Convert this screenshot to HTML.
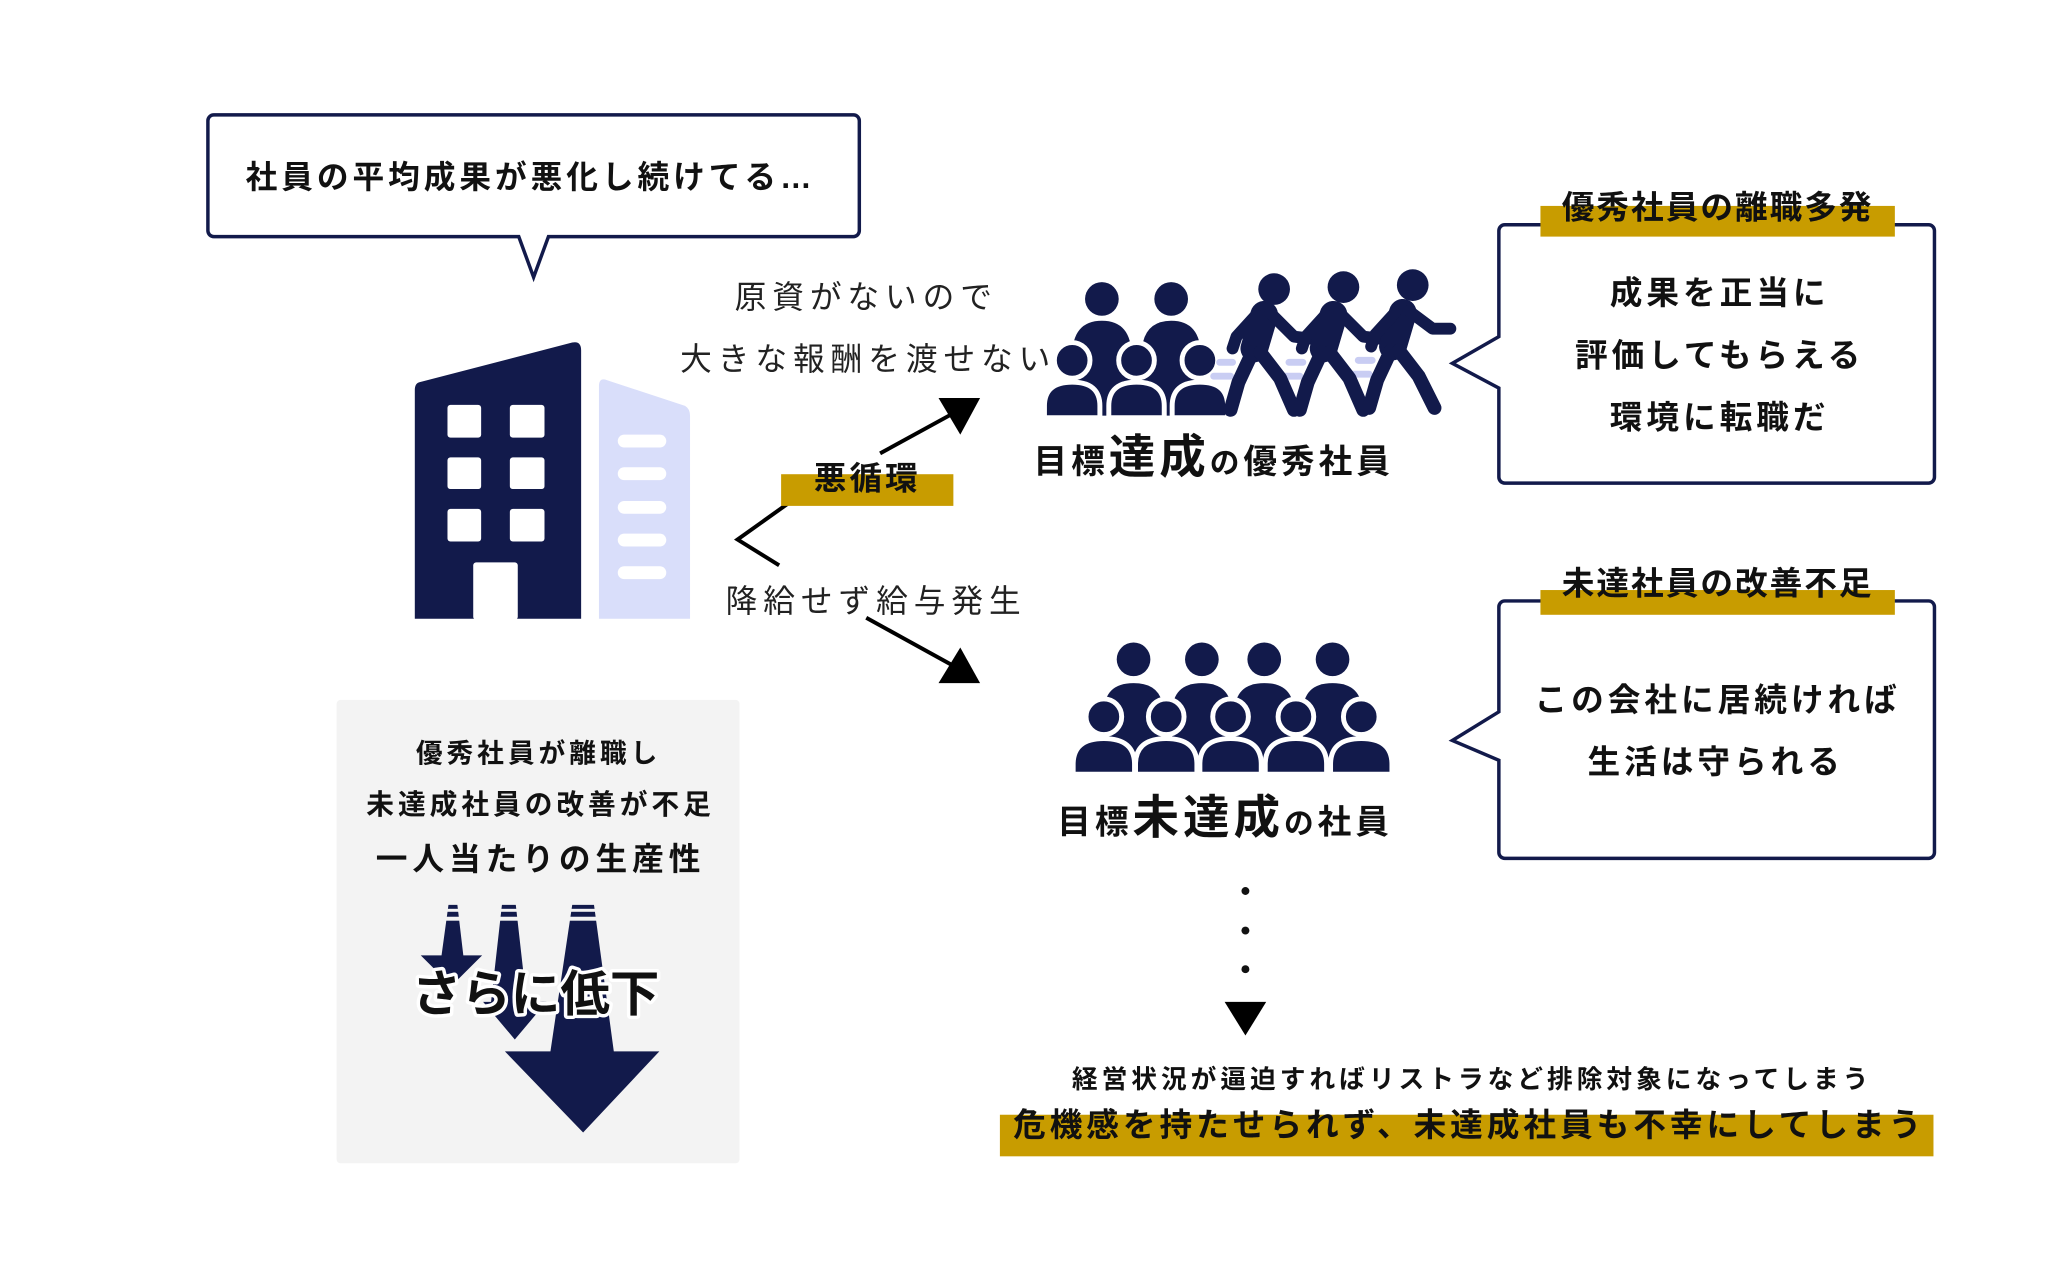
<!DOCTYPE html>
<html><head><meta charset="utf-8"><style>
html,body{margin:0;padding:0;background:#fff;}
svg{display:block;}
text{font-family:"Liberation Sans","Noto Sans CJK JP",sans-serif;}
</style></head><body>
<svg width="2048" height="1280" viewBox="0 0 2048 1280" xmlns="http://www.w3.org/2000/svg">
<rect width="2048" height="1280" fill="#fff"/>
<g transform="scale(0.99)">
<!-- top speech bubble -->
<path d="M216,116 H862 a6,6 0 0 1 6,6 V233 a6,6 0 0 1 -6,6 H554 L539,280 L524,239 H216 a6,6 0 0 1 -6,-6 V122 a6,6 0 0 1 6,-6 Z" fill="#fff" stroke="#121a4b" stroke-width="3.5"/>
<text x="536" y="190" font-size="32" font-weight="700" text-anchor="middle" letter-spacing="4" fill="#111">社員の平均成果が悪化し続けてる…</text>

<!-- building -->
<path d="M424,386 L578,346 Q587,344 587,354 V625 H419 V394 Q419,387 424,386 Z" fill="#121a4b"/>
<g fill="#fff">
<rect x="452" y="409" width="34" height="33" rx="3"/><rect x="515" y="409" width="35" height="33" rx="3"/>
<rect x="452" y="462" width="34" height="32" rx="3"/><rect x="515" y="462" width="35" height="32" rx="3"/>
<rect x="452" y="514" width="34" height="33" rx="3"/><rect x="515" y="514" width="35" height="33" rx="3"/>
<rect x="478" y="568" width="45" height="58" rx="3"/>
</g>
<path d="M605,390 Q605,381 613,384 L692,410 Q697,413 697,420 V625 H605 Z" fill="#d9defa"/>
<g fill="#fff">
<rect x="624" y="439" width="49" height="13" rx="6.5"/><rect x="624" y="472" width="49" height="13" rx="6.5"/>
<rect x="624" y="506" width="49" height="13" rx="6.5"/><rect x="624" y="539" width="49" height="13" rx="6.5"/>
<rect x="624" y="572" width="49" height="13" rx="6.5"/>
</g>

<!-- reasons text -->
<text x="875" y="311" font-size="32" text-anchor="middle" letter-spacing="6" fill="#222">原資がないので</text>
<text x="877" y="374" font-size="32" text-anchor="middle" letter-spacing="6" fill="#222">大きな報酬を渡せない</text>
<text x="885" y="618" font-size="32" text-anchor="middle" letter-spacing="6" fill="#222">降給せず給与発生</text>

<!-- arrows -->
<g stroke="#000" stroke-width="4" fill="none">
<polyline points="808,500 745,545 787,571"/>
<line x1="889" y1="458" x2="962" y2="418"/>
<line x1="875" y1="624" x2="962" y2="672"/>
</g>
<polygon points="948,402 990,402 970,439" fill="#000"/>
<polygon points="948,690 990,690 970,654" fill="#000"/>
<rect x="789" y="479" width="174" height="32" fill="#c89c00"/>
<text x="876" y="486" font-size="33" font-weight="700" text-anchor="middle" letter-spacing="3" fill="#111" dominant-baseline="middle">悪循環</text>

<!-- top group people -->
<g fill="#121a4b">
<circle cx="1113" cy="302" r="17"/><circle cx="1183" cy="302" r="17"/>
<path d="M1083,420 V360 Q1083,324 1113,324 Q1143,324 1143,360 V420 Z"/>
<path d="M1153,420 V360 Q1153,324 1183,324 Q1213,324 1213,360 V420 Z"/>
</g>
<g fill="#121a4b" stroke="#fff" stroke-width="5">
<path d="M1055,422 V410 Q1055,386 1083,386 Q1111,386 1111,410 V422 Z"/>
<path d="M1120,422 V410 Q1120,386 1148,386 Q1176,386 1176,410 V422 Z"/>
<path d="M1184,422 V410 Q1184,386 1212,386 Q1240,386 1240,410 V422 Z"/>
<circle cx="1083" cy="364" r="18"/><circle cx="1148" cy="364" r="18"/><circle cx="1212" cy="364" r="18"/>
</g>
<rect x="1040" y="420" width="210" height="8" fill="#fff"/>
<!-- walkers -->
<g fill="none" stroke="#c9cdf3" stroke-width="7" stroke-linecap="round">
<line x1="1232" y1="366" x2="1245" y2="366"/><line x1="1226" y1="380" x2="1243" y2="380"/>
<line x1="1302" y1="366" x2="1316" y2="366"/><line x1="1296" y1="380" x2="1313" y2="380"/>
<line x1="1372" y1="364" x2="1386" y2="364"/><line x1="1366" y1="378" x2="1383" y2="378"/>
</g>
<g stroke="#121a4b" stroke-linecap="round" stroke-linejoin="round" fill="none">
<g transform="translate(1283,0)">
<line x1="-6" y1="318" x2="-16" y2="352" stroke-width="28"/>
<polyline points="0,316 24,340 40,342" stroke-width="12"/>
<polyline points="-14,318 -34,340 -38,352" stroke-width="12"/>
<polyline points="-18,356 -32,386 -40,414" stroke-width="14"/>
<polyline points="-10,356 10,382 24,414" stroke-width="14"/>
</g>
<g transform="translate(1353,0)">
<line x1="-6" y1="318" x2="-16" y2="352" stroke-width="28"/>
<polyline points="0,316 24,340 40,342" stroke-width="12"/>
<polyline points="-14,318 -34,340 -38,352" stroke-width="12"/>
<polyline points="-18,356 -32,386 -40,414" stroke-width="14"/>
<polyline points="-10,356 10,382 24,414" stroke-width="14"/>
</g>
<g transform="translate(1423,-2)">
<line x1="-6" y1="318" x2="-16" y2="352" stroke-width="28"/>
<polyline points="0,316 24,334 42,334" stroke-width="12"/>
<polyline points="-14,318 -34,340 -38,352" stroke-width="12"/>
<polyline points="-18,356 -32,386 -40,414" stroke-width="14"/>
<polyline points="-10,356 10,382 26,414" stroke-width="14"/>
</g>
</g>
<g fill="#121a4b"><circle cx="1287" cy="292" r="16"/><circle cx="1357" cy="290" r="16"/><circle cx="1427" cy="288" r="16"/></g>

<text x="1044" y="478" font-size="34" font-weight="700" letter-spacing="4" fill="#111">目標<tspan font-size="47">達成</tspan><tspan font-size="30">の</tspan>優秀社員</text>

<!-- right bubble top -->
<path d="M1520,227 H1948 a6,6 0 0 1 6,6 V482 a6,6 0 0 1 -6,6 H1520 a6,6 0 0 1 -6,-6 V392 L1467,367 L1514,340 V233 a6,6 0 0 1 6,-6 Z" fill="#fff" stroke="#121a4b" stroke-width="3.5"/>
<rect x="1556" y="208" width="358" height="31" fill="#c89c00"/>
<text x="1735" y="212" font-size="33" font-weight="700" text-anchor="middle" letter-spacing="2" fill="#111" dominant-baseline="middle">優秀社員の離職多発</text>
<g font-size="33" font-weight="700" text-anchor="middle" letter-spacing="4" fill="#111">
<text x="1737" y="307">成果を正当に</text>
<text x="1737" y="370">評価してもらえる</text>
<text x="1737" y="433">環境に転職だ</text>
</g>

<!-- bottom group -->
<g fill="#121a4b">
<circle cx="1145" cy="666" r="17"/><circle cx="1214" cy="666" r="17"/><circle cx="1277" cy="666" r="17"/><circle cx="1346" cy="666" r="17"/>
<path d="M1115,780 V720 Q1115,690 1145,690 Q1175,690 1175,720 V780 Z"/>
<path d="M1184,780 V720 Q1184,690 1214,690 Q1244,690 1244,720 V780 Z"/>
<path d="M1247,780 V720 Q1247,690 1277,690 Q1307,690 1307,720 V780 Z"/>
<path d="M1316,780 V720 Q1316,690 1346,690 Q1376,690 1376,720 V780 Z"/>
</g>
<g fill="#121a4b" stroke="#fff" stroke-width="5">
<path d="M1084,782 V772 Q1084,746 1115,746 Q1146,746 1146,772 V782 Z"/>
<path d="M1147,782 V772 Q1147,746 1178,746 Q1209,746 1209,772 V782 Z"/>
<path d="M1212,782 V772 Q1212,746 1243,746 Q1274,746 1274,772 V782 Z"/>
<path d="M1278,782 V772 Q1278,746 1309,746 Q1340,746 1340,772 V782 Z"/>
<path d="M1344,782 V772 Q1344,746 1375,746 Q1406,746 1406,772 V782 Z"/>
<circle cx="1115" cy="724" r="18"/><circle cx="1178" cy="724" r="18"/><circle cx="1243" cy="724" r="18"/><circle cx="1309" cy="724" r="18"/><circle cx="1375" cy="724" r="18"/>
</g>
<rect x="1070" y="780" width="350" height="8" fill="#fff"/>
<text x="1068" y="842" font-size="34" font-weight="700" letter-spacing="4" fill="#111">目標<tspan font-size="47">未達成</tspan><tspan font-size="30">の</tspan>社員</text>

<!-- right bubble bottom -->
<path d="M1520,607 H1948 a6,6 0 0 1 6,6 V861 a6,6 0 0 1 -6,6 H1520 a6,6 0 0 1 -6,-6 V768 L1467,748 L1514,719 V613 a6,6 0 0 1 6,-6 Z" fill="#fff" stroke="#121a4b" stroke-width="3.5"/>
<rect x="1556" y="596" width="358" height="25" fill="#c89c00"/>
<text x="1735" y="592" font-size="33" font-weight="700" text-anchor="middle" letter-spacing="2" fill="#111" dominant-baseline="middle">未達社員の改善不足</text>
<g font-size="33" font-weight="700" text-anchor="middle" letter-spacing="4" fill="#111">
<text x="1735" y="718">この会社に居続ければ</text>
<text x="1733" y="781">生活は守られる</text>
</g>

<!-- dots + arrow -->
<g fill="#111"><circle cx="1258" cy="900" r="4"/><circle cx="1258" cy="940" r="4"/><circle cx="1258" cy="979" r="4"/></g>
<polygon points="1237,1012 1279,1012 1258,1046" fill="#000"/>
<text x="1487" y="1099" font-size="26" font-weight="700" text-anchor="middle" letter-spacing="4" fill="#111">経営状況が逼迫すればリストラなど排除対象になってしまう</text>
<rect x="1010" y="1126" width="943" height="42" fill="#c89c00"/>
<text x="1484" y="1139" font-size="33" font-weight="700" text-anchor="middle" letter-spacing="4" fill="#111" dominant-baseline="middle">危機感を持たせられず、未達成社員も不幸にしてしまう</text>

<!-- gray box -->
<rect x="340" y="707" width="407" height="468" rx="4" fill="#f3f3f3"/>
<g font-weight="700" text-anchor="middle" fill="#111">
<text x="544" y="770" font-size="27" letter-spacing="4">優秀社員が離職し</text>
<text x="546" y="822" font-size="28" letter-spacing="4">未達成社員の改善が不足</text>
<text x="546" y="879" font-size="32" letter-spacing="5">一人当たりの生産性</text>
</g>
<g fill="#121a4b">
<polygon points="453,914 462,914 468,965 487,965 456,996 425,965 446,965"/>
<polygon points="507,914 521,914 532,1012 552,1012 520,1050 488,1012 496,1012"/>
<polygon points="578,914 600,914 620,1062 666,1062 589,1144 510,1062 556,1062"/>
</g>
<g fill="#f3f3f3">
<rect x="440" y="918" width="180" height="3"/>
<rect x="440" y="926" width="180" height="4"/>
</g>
<text x="541" y="1021" font-size="50" font-weight="700" text-anchor="middle" fill="#111" stroke="#fff" stroke-width="7" paint-order="stroke" stroke-linejoin="round">さらに低下</text>
</g>
</svg>
</body></html>
